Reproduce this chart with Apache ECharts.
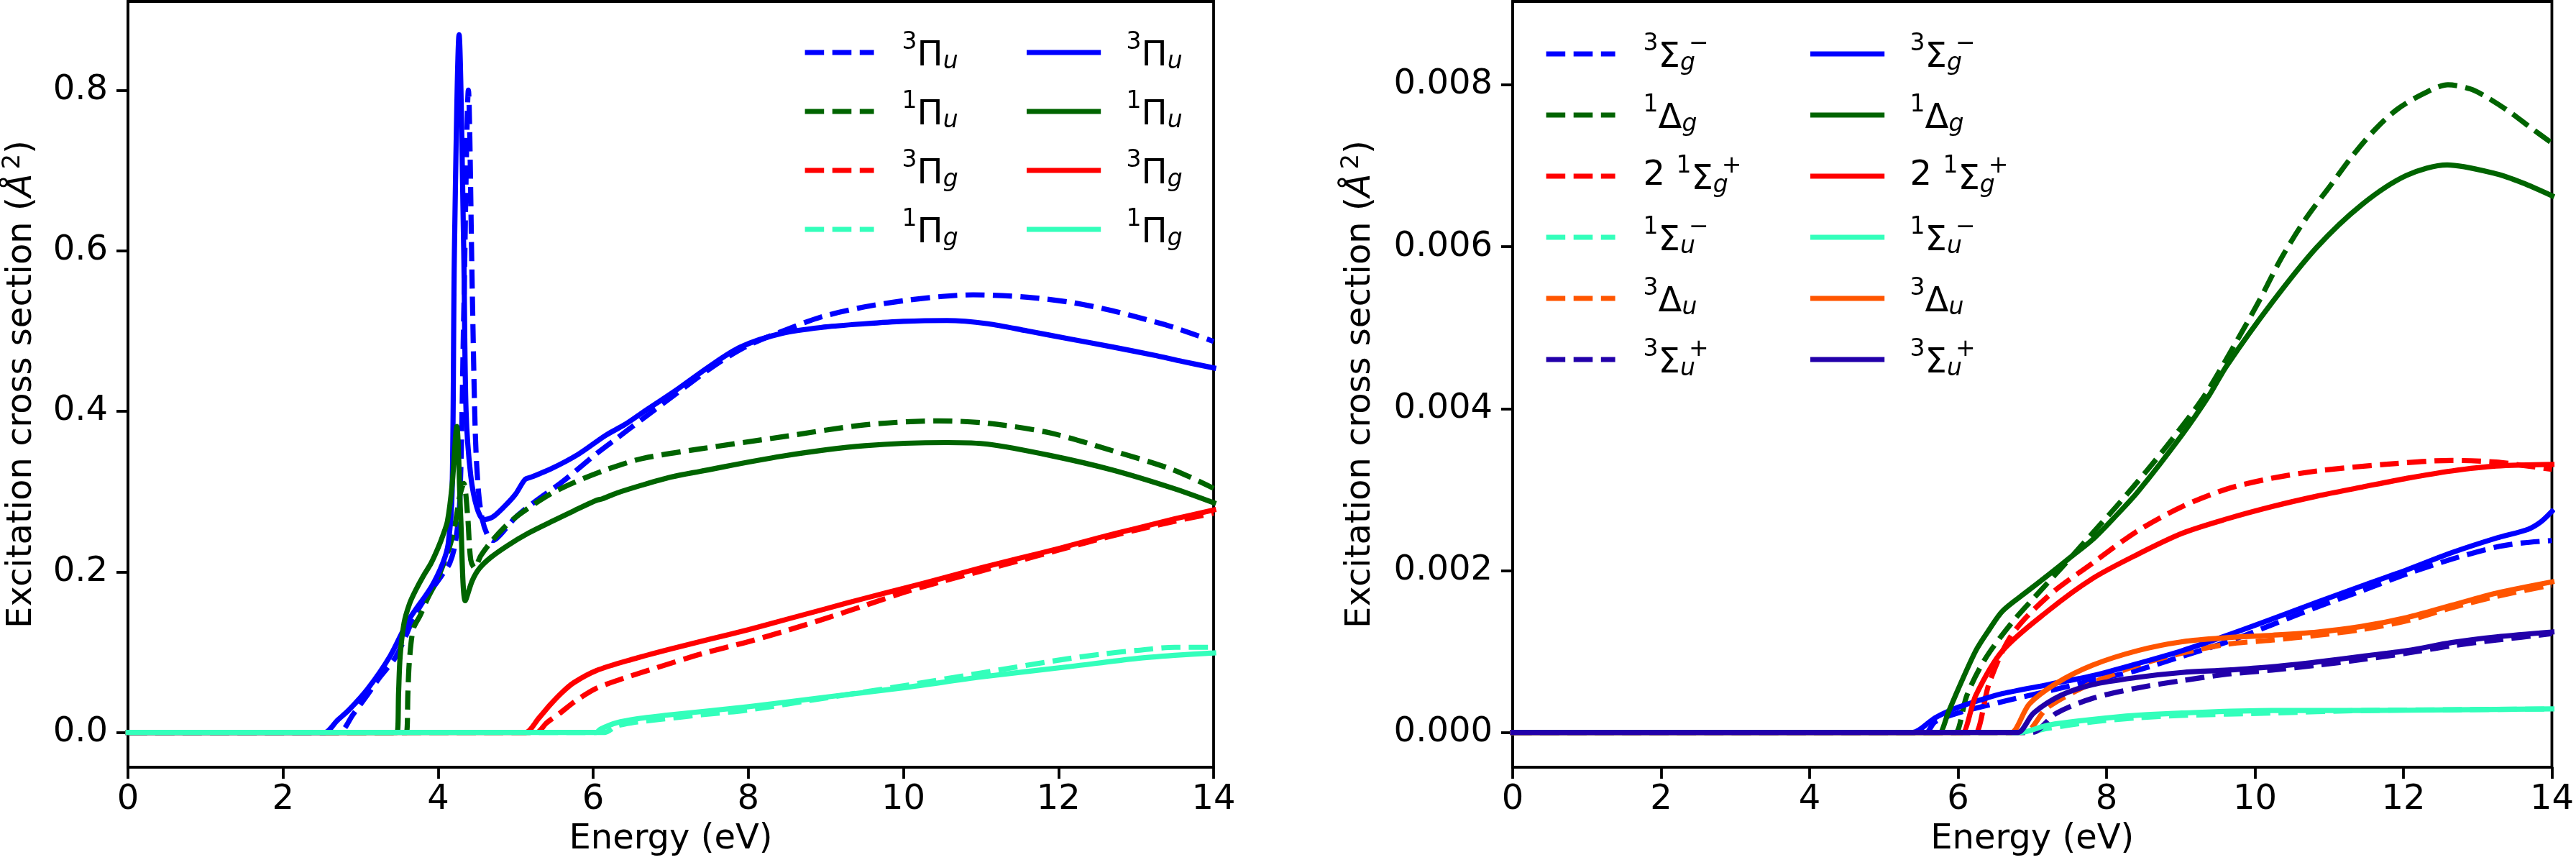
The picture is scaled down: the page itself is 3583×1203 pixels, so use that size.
<!DOCTYPE html>
<html>
<head>
<meta charset="utf-8">
<script src="https://cdn.jsdelivr.net/npm/echarts@6/dist/echarts.min.js"></script>
<style>html,body{margin:0;padding:0;background:#fff;}#c{width:3583px;height:1203px;}</style>
</head>
<body>
<div id="c"></div>
<script>
// ---------- tick labels ----------
const X_TICKS = [0, 2, 4, 6, 8, 10, 12, 14];
const LEFT_Y_TICKS = [0, 0.2, 0.4, 0.6, 0.8];
const RIGHT_Y_TICKS = [0, 0.002, 0.004, 0.006, 0.008];

// ---------- left panel: Pi states (dashed / solid) ----------
const P3U_D = [[0,0],[2.68,0],[2.73,0],[2.9,0.022],[3.09,0.047],[3.25,0.069],[3.44,0.092],[3.56,0.115],[3.68,0.142],[3.82,0.165],[3.94,0.181],[4.05,0.196],[4.15,0.211],[4.22,0.235],[4.28,0.29],[4.33,0.52],[4.39,0.80],[4.44,0.55],[4.48,0.37],[4.52,0.30],[4.57,0.265],[4.64,0.245],[4.71,0.239],[4.8,0.246],[5.0,0.268],[5.27,0.289],[5.6,0.312],[6.04,0.347],[6.3,0.366],[6.63,0.39],[7.1,0.424],[7.58,0.458],[8.0,0.482],[8.5,0.502],[8.96,0.518],[9.5,0.53],[10.03,0.538],[10.5,0.543],[10.9,0.545],[11.6,0.542],[12.2,0.535],[12.7,0.525],[13.1,0.515],[13.5,0.504],[14,0.487]];
const P1U_D = [[0,0],[3.54,0],[3.59,0],[3.61,0.05],[3.63,0.09],[3.68,0.129],[3.77,0.146],[3.86,0.166],[3.96,0.185],[4.05,0.205],[4.15,0.232],[4.22,0.26],[4.28,0.295],[4.33,0.31],[4.38,0.27],[4.42,0.215],[4.47,0.205],[4.55,0.22],[4.68,0.237],[4.85,0.255],[5.04,0.271],[5.45,0.297],[5.77,0.312],[6.16,0.327],[6.63,0.341],[7.37,0.353],[8.43,0.368],[9.5,0.383],[10.45,0.388],[11.09,0.385],[11.89,0.373],[12.69,0.351],[13.48,0.327],[14,0.304]];
const P3G_D = [[0,0],[5.22,0],[5.27,0],[5.4,0.012],[5.57,0.024],[5.77,0.039],[6.04,0.055],[6.41,0.068],[6.8,0.08],[7.4,0.098],[8.0,0.113],[8.5,0.127],[9.0,0.142],[9.5,0.158],[10.03,0.175],[10.5,0.188],[11.0,0.201],[11.5,0.214],[12.0,0.227],[12.5,0.24],[13.0,0.252],[13.5,0.263],[14,0.273]];
const P1G_D = [[0,0],[6.1,0],[6.15,0],[6.3,0.008],[6.5,0.012],[6.84,0.016],[7.4,0.022],[8.0,0.028],[9.0,0.043],[10.0,0.058],[11.0,0.074],[12.0,0.09],[12.6,0.098],[13.0,0.102],[13.5,0.106],[14,0.106]];
const P3U_S = [[0,0],[2.49,0],[2.54,0],[2.7,0.015],[2.85,0.028],[3.09,0.054],[3.38,0.095],[3.62,0.14],[3.91,0.181],[4.06,0.211],[4.13,0.235],[4.18,0.30],[4.21,0.6],[4.27,0.869],[4.33,0.6],[4.36,0.40],[4.42,0.32],[4.5,0.28],[4.59,0.265],[4.7,0.268],[4.86,0.282],[5.0,0.297],[5.12,0.315],[5.2,0.318],[5.45,0.328],[5.8,0.346],[6.16,0.37],[6.4,0.383],[6.63,0.398],[7.05,0.425],[7.5,0.456],[7.9,0.48],[8.43,0.497],[9.0,0.505],[9.5,0.509],[10.0,0.512],[10.56,0.513],[11.09,0.509],[11.6,0.5],[12.15,0.49],[12.7,0.48],[13.22,0.47],[13.6,0.462],[14,0.454]];
const P1U_S = [[0,0],[3.42,0],[3.47,0],[3.49,0.05],[3.51,0.095],[3.56,0.136],[3.63,0.16],[3.71,0.177],[3.81,0.195],[3.91,0.211],[4.0,0.23],[4.06,0.245],[4.12,0.263],[4.18,0.308],[4.24,0.381],[4.29,0.27],[4.35,0.164],[4.44,0.189],[4.53,0.204],[4.68,0.218],[4.9,0.233],[5.16,0.248],[5.45,0.262],[5.75,0.276],[6.04,0.289],[6.12,0.291],[6.3,0.298],[6.63,0.308],[7.0,0.318],[7.37,0.325],[8.43,0.344],[9.5,0.357],[10.56,0.361],[11.09,0.359],[11.89,0.345],[12.69,0.327],[13.48,0.304],[14,0.286]];
const P3G_S = [[0,0],[5.08,0],[5.13,0],[5.3,0.018],[5.45,0.035],[5.6,0.05],[5.75,0.062],[6.04,0.077],[6.5,0.091],[7.0,0.104],[7.5,0.116],[8.0,0.128],[8.5,0.141],[9.0,0.154],[9.5,0.167],[10.03,0.18],[10.5,0.192],[11.0,0.205],[11.5,0.217],[12.0,0.229],[12.5,0.242],[13.0,0.254],[13.5,0.266],[14,0.277]];
const P1G_S = [[0,0],[5.99,0],[6.04,0],[6.09,0.004],[6.3,0.012],[6.57,0.017],[7.0,0.022],[8.0,0.032],[9.0,0.044],[10.03,0.056],[11.0,0.069],[12.15,0.082],[13.0,0.092],[13.5,0.096],[14,0.099]];

// ---------- right panel: Sigma / Delta states ----------
const S3GM_D = [[0,0],[5.52,0],[5.57,0],[5.69,0.00013],[6.0,0.00024],[6.6,0.00038],[7.21,0.00051],[7.81,0.00064],[8.42,0.00077],[9.02,0.00094],[9.63,0.00112],[10.23,0.00133],[10.84,0.00155],[11.44,0.00175],[12.05,0.00196],[12.65,0.00214],[13.25,0.00229],[13.6,0.00234],[14,0.00237]];
const D1G_D = [[0,0],[5.92,0],[5.97,0],[6.12,0.00046],[6.36,0.0009],[6.72,0.00135],[7.08,0.00172],[7.45,0.00209],[7.81,0.00246],[8.17,0.00283],[8.54,0.00323],[8.9,0.00364],[9.32,0.00416],[9.72,0.00478],[10.05,0.00532],[10.35,0.00585],[10.68,0.00634],[11.02,0.00676],[11.32,0.00713],[11.62,0.00745],[11.92,0.0077],[12.29,0.0079],[12.6,0.008],[12.9,0.00795],[13.1,0.00786],[13.44,0.00766],[13.7,0.00748],[14,0.00728]];
const S1GP2_D = [[0,0],[6.19,0],[6.24,0],[6.42,0.00061],[6.72,0.0012],[7.21,0.00168],[7.81,0.00209],[8.42,0.00249],[9.02,0.00279],[9.63,0.00301],[10.23,0.00314],[10.84,0.00323],[11.74,0.00331],[12.65,0.00336],[13.25,0.00334],[13.6,0.0033],[14,0.00325]];
const S1UM_D = [[0,0],[6.85,0],[6.9,0],[7.21,0.00005],[7.81,0.00013],[8.4,0.00018],[9.02,0.00021],[10.23,0.00024],[11.44,0.00027],[12.65,0.00028],[14,0.00029]];
const D3U_D = [[0,0],[6.85,0],[6.9,0],[7.21,0.00031],[7.81,0.00061],[8.42,0.00083],[9.02,0.00098],[9.63,0.00109],[10.23,0.00114],[10.84,0.0012],[11.44,0.00127],[12.05,0.00138],[12.65,0.00154],[13.25,0.00168],[14,0.00182]];
const S3UP_D = [[0,0],[6.95,0],[7.0,0],[7.33,0.00024],[7.81,0.00042],[8.42,0.00055],[9.02,0.00064],[9.63,0.00072],[10.23,0.00077],[10.84,0.00083],[11.44,0.0009],[12.05,0.00098],[12.65,0.00107],[13.25,0.00114],[14,0.00122]];
const S3GM_S = [[0,0],[5.34,0],[5.39,0],[5.69,0.00018],[6.0,0.00031],[6.3,0.0004],[6.6,0.00048],[7.21,0.00059],[7.81,0.0007],[8.42,0.00085],[9.02,0.00101],[9.63,0.0012],[10.23,0.0014],[10.84,0.00161],[11.44,0.00181],[12.05,0.00201],[12.65,0.00222],[13.25,0.0024],[13.68,0.00251],[13.85,0.0026],[14,0.00273]];
const D1G_S = [[0,0],[5.7,0],[5.75,0],[5.87,0.00025],[6.0,0.00053],[6.24,0.00101],[6.42,0.00127],[6.6,0.0015],[6.9,0.00172],[7.21,0.00194],[7.51,0.00216],[7.81,0.00238],[8.1,0.00265],[8.42,0.00297],[9.02,0.00368],[9.38,0.00416],[9.62,0.00453],[10.23,0.00531],[10.83,0.00599],[11.44,0.00652],[12.04,0.00688],[12.59,0.00701],[13.25,0.0069],[13.6,0.00679],[14,0.00663]];
const S1GP2_S = [[0,0],[6.01,0],[6.06,0],[6.24,0.00046],[6.6,0.00101],[7.21,0.0015],[7.81,0.0019],[8.42,0.0022],[9.02,0.00246],[9.63,0.00264],[10.23,0.00279],[10.84,0.00292],[11.44,0.00303],[12.05,0.00314],[12.65,0.00323],[13.25,0.00329],[14,0.00331]];
const S1UM_S = [[0,0],[6.79,0],[6.84,0],[7.21,0.00009],[7.81,0.00016],[8.4,0.00021],[9.02,0.00024],[10.23,0.00027],[11.44,0.00027],[12.65,0.00028],[14,0.00029]];
const D3U_S = [[0,0],[6.67,0],[6.72,0],[6.96,0.00035],[7.33,0.00061],[7.81,0.00083],[8.42,0.00101],[9.02,0.00112],[9.63,0.00117],[10.23,0.0012],[10.84,0.00124],[11.44,0.00131],[12.05,0.00142],[12.65,0.00157],[13.25,0.00172],[14,0.00186]];
const S3UP_S = [[0,0],[6.76,0],[6.81,0],[7.02,0.00024],[7.39,0.00046],[7.81,0.00059],[8.42,0.00068],[9.02,0.00074],[9.63,0.00077],[10.23,0.00081],[10.84,0.00087],[11.44,0.00094],[12.05,0.00101],[12.65,0.00111],[13.25,0.00118],[14,0.00124]];

// ---------- legend labels (rich text) ----------
const LABELS = {
  L1: '{w| }{p|3}{G|Π}{s|u}', L2: '{w| }{p|1}{G|Π}{s|u}', L3: '{w| }{p|3}{G|Π}{s|g}', L4: '{w| }{p|1}{G|Π}{s|g}',
  R1: '{w| }{p|3}{G|Σ}{z|g}{p|−}', R2: '{w| }{p|1}{G|Δ}{s|g}', R3: '{w| }{n|2 }{p|1}{G|Σ}{z|g}{p|+}',
  R4: '{w| }{p|1}{G|Σ}{z|u}{p|−}', R5: '{w| }{p|3}{G|Δ}{s|u}', R6: '{w| }{p|3}{G|Σ}{z|u}{p|+}'
};

const FONT = 'DejaVu Sans';
const C_BLUE = '#0000ff', C_GREEN = '#006400', C_RED = '#ff0000', C_CYAN = '#33ffbb', C_ORANGE = '#ff5500', C_INDIGO = '#2200aa';
const DASH = [26.6, 11.5];
const LW = 7.2;

function mk(name, data, color, dashed, idx) {
  return {
    name: name, type: 'line', xAxisIndex: idx, yAxisIndex: idx, data: data,
    symbol: 'none', showSymbol: false, smooth: 0.3, animation: false,
    lineStyle: { width: LW, color: color, type: dashed ? DASH : 'solid', cap: dashed ? 'butt' : 'square', join: 'round' },
    itemStyle: { color: color }, emphasis: { disabled: true }
  };
}

const series = [
  mk('Ld1', P3U_D, C_BLUE, true, 0), mk('Ld2', P1U_D, C_GREEN, true, 0), mk('Ld3', P3G_D, C_RED, true, 0), mk('Ld4', P1G_D, C_CYAN, true, 0),
  mk('Ls1', P3U_S, C_BLUE, false, 0), mk('Ls2', P1U_S, C_GREEN, false, 0), mk('Ls3', P3G_S, C_RED, false, 0), mk('Ls4', P1G_S, C_CYAN, false, 0),
  mk('Rd1', S3GM_D, C_BLUE, true, 1), mk('Rd2', D1G_D, C_GREEN, true, 1), mk('Rd3', S1GP2_D, C_RED, true, 1),
  mk('Rd4', S1UM_D, C_CYAN, true, 1), mk('Rd5', D3U_D, C_ORANGE, true, 1), mk('Rd6', S3UP_D, C_INDIGO, true, 1),
  mk('Rs1', S3GM_S, C_BLUE, false, 1), mk('Rs2', D1G_S, C_GREEN, false, 1), mk('Rs3', S1GP2_S, C_RED, false, 1),
  mk('Rs4', S1UM_S, C_CYAN, false, 1), mk('Rs5', D3U_S, C_ORANGE, false, 1), mk('Rs6', S3UP_S, C_INDIGO, false, 1)
];

const RICH = {
  w: { fontSize: 48, lineHeight: 60, width: 34, verticalAlign: 'middle', fontFamily: FONT },
  n: { fontSize: 48, lineHeight: 60, verticalAlign: 'middle', fontFamily: FONT, color: '#000' },
  G: { fontSize: 48, lineHeight: 58, verticalAlign: 'bottom', fontFamily: FONT, color: '#000' },
  p: { fontSize: 33, lineHeight: 32, verticalAlign: 'top', fontFamily: FONT, color: '#000' },
  s: { fontSize: 33, lineHeight: 32, verticalAlign: 'bottom', fontStyle: 'italic', fontFamily: FONT, color: '#000' },
  z: { fontSize: 33, lineHeight: 32, verticalAlign: 'bottom', fontStyle: 'italic', width: 12, fontFamily: FONT, color: '#000' }
};

function fmt(name) {
  const key = name.charAt(0) + name.charAt(2);
  return LABELS[key];
}

function legend(names, left, top, gap) {
  return {
    data: names, orient: 'vertical', left: left, top: top, padding: 0,
    itemWidth: 96, itemHeight: 1, itemGap: gap, selectedMode: false,
    lineStyle: { width: LW },
    formatter: fmt, textStyle: { color: '#000', fontFamily: FONT, rich: RICH }
  };
}

const yNameRich = {
  t: { fontSize: 48, lineHeight: 60, fontFamily: FONT, color: '#000' },
  a: { fontSize: 48, lineHeight: 60, fontStyle: 'italic', fontFamily: FONT, color: '#000' },
  s: { fontSize: 34, lineHeight: 36, verticalAlign: 'top', padding: [0, 0, 0, 6], fontFamily: FONT, color: '#000' }
};
const YNAME = '{t|Excitation cross section (}{a|Å}{s|2}{t|)}';

function xAxis(idx) {
  return {
    gridIndex: idx, type: 'value', min: 0, max: 14, interval: 2,
    axisLine: { show: true, onZero: false, lineStyle: { color: '#000', width: 3.8 } },
    axisTick: { show: true, length: 16, lineStyle: { color: '#000', width: 3.8 } },
    axisLabel: { fontSize: 48, lineHeight: 48, color: '#000', margin: 22, fontFamily: FONT, customValues: X_TICKS },
    splitLine: { show: false },
    name: 'Energy (eV)', nameLocation: 'middle', nameGap: 77,
    nameTextStyle: { fontSize: 48, lineHeight: 48, color: '#000', fontFamily: FONT }
  };
}
function yAxis(idx, min, max, ticks, dec, gap) {
  return {
    gridIndex: idx, type: 'value', min: min, max: max,
    axisLine: { show: true, onZero: false, lineStyle: { color: '#000', width: 3.8 } },
    axisTick: { show: true, length: 16, customValues: ticks, lineStyle: { color: '#000', width: 3.8 } },
    axisLabel: { fontSize: 48, color: '#000', margin: 28, fontFamily: FONT, customValues: ticks,
      formatter: function (v) { return Number(v).toFixed(dec); } },
    splitLine: { show: false },
    name: YNAME, nameLocation: 'middle', nameGap: gap,
    nameTextStyle: { rich: yNameRich }
  };
}

const chart = echarts.init(document.getElementById('c'), null, { renderer: 'canvas', width: 3583, height: 1203 });
chart.setOption({
  animation: false,
  backgroundColor: '#ffffff',
  textStyle: { fontFamily: FONT },
  grid: [
    { left: 177, right: 1895, top: 2, bottom: 136, show: true, borderColor: '#000', borderWidth: 3.8, backgroundColor: 'rgba(0,0,0,0)', containLabel: false },
    { left: 2104, right: 28, top: 2, bottom: 136, show: true, borderColor: '#000', borderWidth: 3.8, backgroundColor: 'rgba(0,0,0,0)', containLabel: false }
  ],
  xAxis: [xAxis(0), xAxis(1)],
  yAxis: [yAxis(0, -0.04335, 0.9104, LEFT_Y_TICKS, 1, 117), yAxis(1, -0.00043, 0.00903, RIGHT_Y_TICKS, 3, 181)],
  legend: [
    legend(['Ld1', 'Ld2', 'Ld3', 'Ld4'], 1116, 43, 22),
    legend(['Ls1', 'Ls2', 'Ls3', 'Ls4'], 1428, 43, 22),
    legend(['Rd1', 'Rd2', 'Rd3', 'Rd4', 'Rd5', 'Rd6'], 2147, 45, 25),
    legend(['Rs1', 'Rs2', 'Rs3', 'Rs4', 'Rs5', 'Rs6'], 2518, 45, 25)
  ],
  series: series
});
</script>
</body>
</html>
